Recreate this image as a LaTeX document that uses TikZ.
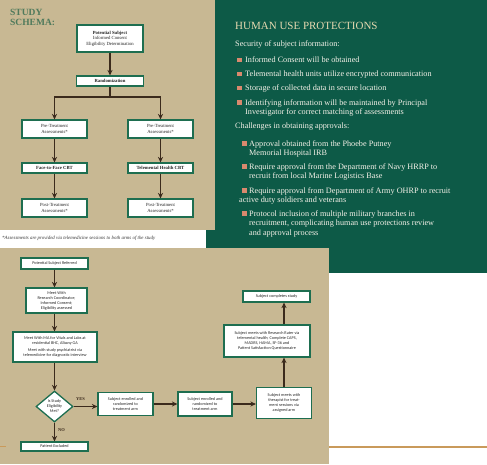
\documentclass[tikz,border=0pt]{standalone}
\usepackage{fontspec}
\setmainfont{Liberation Serif}
\newfontfamily\boxsans{Carlito}
\usetikzlibrary{arrows.meta,shapes.geometric}
\definecolor{tanbg}{HTML}{C8B893}
\definecolor{panelgreen}{HTML}{0D5A47}
\definecolor{boxgreen}{HTML}{1E6E50}
\definecolor{arrowbrown}{HTML}{3B2A1C}
\definecolor{titletan}{HTML}{E6D9B0}
\definecolor{bodywhite}{HTML}{F4F1E8}
\definecolor{bulletsalmon}{HTML}{D9896E}
\definecolor{schemagreen}{HTML}{4F7A5C}
\definecolor{rulegold}{HTML}{C99A5B}
\tikzset{
  box/.style={draw=boxgreen, line width=1.3pt, fill=white, align=center, inner sep=0.5pt, font=\fontsize{4.7}{5.4}\selectfont, text=black!85},
  sbox/.style={box, font=\boxsans\fontsize{4.2}{5}\selectfont},
  arr/.style={draw=arrowbrown, line width=1.7pt, -{Stealth[length=5.5pt,width=5.2pt]}},
  plainline/.style={draw=arrowbrown, line width=1.7pt},
  body/.style={anchor=base west, inner sep=0pt, text=bodywhite, font=\fontsize{8.2}{9.5}\selectfont},
  bul/.style={fill=bulletsalmon},
  lbl/.style={font=\bfseries\fontsize{4.5}{5}\selectfont, text=arrowbrown, inner sep=0pt}
}
\begin{document}
\begin{tikzpicture}[x=1pt,y=-1pt]
\useasboundingbox (0,0) rectangle (487,464);
\fill[white] (0,0) rectangle (487,464);
% panels
\fill[panelgreen] (206,0) rectangle (487,273);
\fill[tanbg] (0,0) rectangle (215,230);
\fill[white] (0,230) rectangle (206,248);
\fill[tanbg] (0,248) rectangle (329,464);
\draw[rulegold, line width=1.4pt] (329,447) -- (487,447);
\draw[rulegold, line width=1pt] (0,446) -- (6,446);

% ---------- top schema ----------
\node[anchor=base west, inner sep=0pt, text=schemagreen, font=\bfseries\fontsize{9.5}{10}\selectfont] (stitle1) at (10,15) {STUDY};
\node[anchor=base west, inner sep=0pt, text=schemagreen, font=\bfseries\fontsize{9.5}{10}\selectfont] (stitle2) at (10,25) {SCHEMA:};

\node[box, minimum width=66pt, minimum height=27pt] (p1) at (110,38.5) {\textbf{Potential Subject}\\Informed Consent\\Eligibility Determination};
\node[box, minimum width=67pt, minimum height=10pt] (rnd) at (110,81) {\textbf{Randomization}};
\node[box, minimum width=65pt, minimum height=18pt] (pre1) at (54.5,129) {Pre-Treatment\\Assessments*};
\node[box, minimum width=65pt, minimum height=18pt] (pre2) at (160.5,129) {Pre-Treatment\\Assessments*};
\node[box, minimum width=65pt, minimum height=10pt] (ftf) at (54.5,168) {\textbf{Face-to-Face CBT}};
\node[box, minimum width=65pt, minimum height=10pt] (tel) at (160.5,168) {\textbf{Telemental Health CBT}};
\node[box, minimum width=65pt, minimum height=18pt] (post1) at (54.5,208) {Post-Treatment\\Assessments*};
\node[box, minimum width=65pt, minimum height=18pt] (post2) at (160.5,208) {Post-Treatment\\Assessments*};
\coordinate (sp) at (110,97);

\draw[arr] (p1) -- (rnd);
\draw[plainline] (rnd) -- (sp);
\draw[arr] (sp) -| (pre1);
\draw[arr] (sp) -| (pre2);
\draw[arr] (pre1) -- (ftf);
\draw[arr] (pre2) -- (tel);
\draw[arr] (ftf) -- (post1);
\draw[arr] (tel) -- (post2);

\node[anchor=west, inner sep=0pt, font=\itshape\fontsize{4.9}{5}\selectfont, text=black!80] (foot) at (2,238) {*Assessments are provided via telemedicine sessions to both arms of the study};

% ---------- human use protections ----------
\node[anchor=base west, inner sep=0pt, text=titletan, font=\fontsize{11}{12}\selectfont] (htitle) at (235,29) {HUMAN USE PROTECTIONS};
\node[body] (sec) at (235,46) {Security of subject information:};
\fill[bul] (237,57.5) rectangle (241.5,62);
\node[body] (s1) at (245,62.5) {Informed Consent will be obtained};
\fill[bul] (237,71.5) rectangle (241.5,76);
\node[body] (s2) at (245,76.5) {Telemental health units utilize encrypted communication};
\fill[bul] (237,85.5) rectangle (241.5,90);
\node[body] (s3) at (245,90.5) {Storage of collected data in secure location};
\fill[bul] (237,100) rectangle (241.5,104.5);
\node[body] (s4a) at (245,105) {Identifying information will be maintained by Principal};
\node[body] (s4b) at (245,114) {Investigator for correct matching of assessments};
\node[body] (chal) at (235,128.5) {Challenges in obtaining approvals:};
\fill[bul] (242,141) rectangle (246.5,145.5);
\node[body] (c1a) at (249,146) {Approval obtained from the Phoebe Putney};
\node[body] (c1b) at (249,155.5) {Memorial Hospital IRB};
\fill[bul] (242,164) rectangle (246.5,168.5);
\node[body] (c2a) at (249,169) {Require approval from the Department of Navy HRRP to};
\node[body] (c2b) at (249,178.5) {recruit from local Marine Logistics Base};
\fill[bul] (242,188) rectangle (246.5,192.5);
\node[body] (c3a) at (249,193) {Require approval from Department of Army OHRP to recruit};
\node[body] (c3b) at (239,202) {active duty soldiers and veterans};
\fill[bul] (242,211) rectangle (246.5,215.5);
\node[body] (c4a) at (249,216) {Protocol inclusion of multiple military branches in};
\node[body] (c4b) at (249,225.5) {recruitment, complicating human use protections review};
\node[body] (c4c) at (249,235) {and approval process};

% ---------- bottom flow ----------
\node[sbox, minimum width=67pt, minimum height=11pt] (ref) at (54.5,263.5) {Potential Subject Referred};
\node[sbox, minimum width=61pt, minimum height=25pt] (meet) at (56.5,300.5) {Meet With\\Research Coordinator;\\Informed Consent;\\Eligibility assessed};
\node[sbox, minimum width=84pt, minimum height=30pt] (ma) at (55,347) {Meet With MA for Vitals and Labs at\\residential BHC, Albany GA\\[2.5pt]Meet with study psychiatrist via\\telemedicine for diagnostic interview};
\node[sbox, diamond, minimum width=37pt, minimum height=31pt, inner sep=0pt] (dia) at (54.5,406.5) {Is Study\\Eligibility\\Met?};
\node[sbox, minimum width=67pt, minimum height=9pt] (excl) at (54.5,446.5) {Patient Excluded};
\node[sbox, minimum width=55pt, minimum height=23pt] (enr1) at (125.5,404) {Subject enrolled and\\randomized to\\treatment arm};
\node[sbox, minimum width=54pt, minimum height=24pt] (enr2) at (205,404) {Subject enrolled and\\randomized to\\treatment arm};
\node[sbox, minimum width=55pt, minimum height=31pt] (ther) at (284,403) {Subject meets with\\therapist for treat-\\ment sessions via\\assigned arm};
\node[sbox, minimum width=86pt, minimum height=32pt] (rater) at (267,341) {Subject meets with Research Rater via\\telemental health; Complete CAPS,\\MADRS, HAMA, SF-36 and\\Patient Satisfaction Questionnaire};
\node[sbox, minimum width=67pt, minimum height=11pt] (done) at (276.5,296.5) {Subject completes study};

\draw[arr] (ref.south) -- (ref.south |- meet.north);
\draw[arr] (meet.south -| ref.south) -- (ref.south |- ma.north);
\draw[arr] (ma.south -| dia.north) -- (dia.north);
\draw[arr] (dia.south) -- (excl.north);
\draw[arr] (dia.east) -- (dia.east -| enr1.west);
\draw[arr] (enr1.east) -- (enr2.west);
\draw[arr] (enr2.east) -- (enr2.east -| ther.west);
\draw[arr] (ther.north) -- (ther.north |- rater.south);
\draw[arr] (rater.north -| ther.north) -- (done.south -| ther.north);

\node[lbl, anchor=south west] (yes) at (76,401) {YES};
\node[lbl, anchor=west] (no) at (58,430) {NO};
\end{tikzpicture}
\end{document}
